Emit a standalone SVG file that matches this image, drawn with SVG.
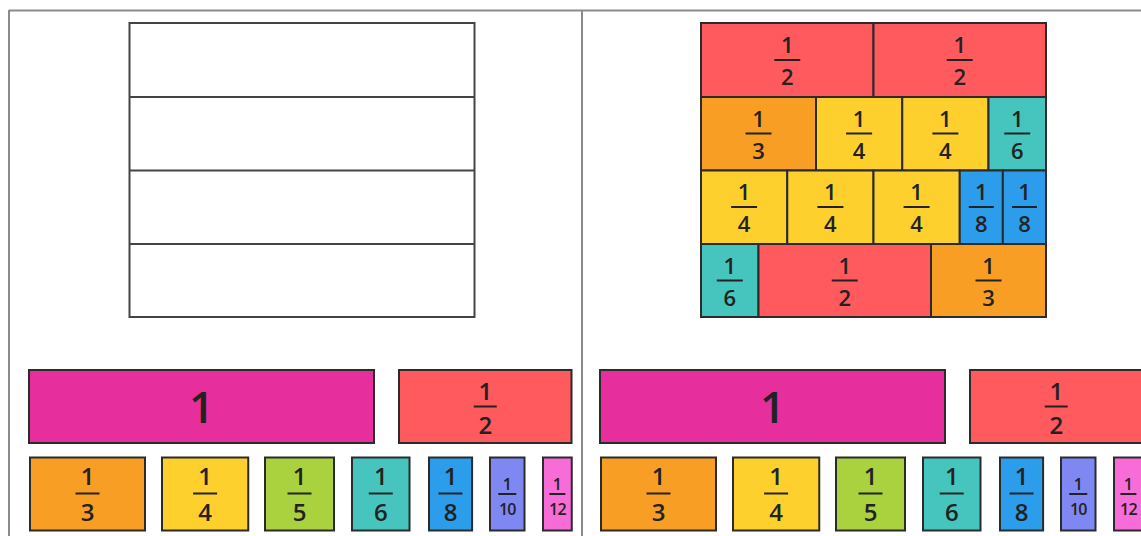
<svg xmlns="http://www.w3.org/2000/svg" width="1141" height="536" viewBox="0 0 1141 536">
<style>
.bg{fill:#ffffff}
.frame{stroke:#8a8a8a;stroke-width:2;fill:none}
.empty{fill:#ffffff;stroke:#444;stroke-width:2}
.t{stroke:#2b2b2b;stroke-width:2}
.bar{stroke:#222;stroke-width:2}
.n{font-family:"Open Sans","Noto Sans",sans-serif;fill:#222;text-anchor:middle;font-weight:600}
.s22{font-size:22px}
.s24{font-size:24px}
.s15{font-size:16px}
.s42{font-size:44px}
.mag{fill:#E62E9C}
.red{fill:#FF5A5E}
.org{fill:#F89E25}
.yel{fill:#FDD02E}
.grn{fill:#A9D23E}
.tea{fill:#45C5BE}
.blu{fill:#2C9DEA}
.per{fill:#7E87F2}
.pnk{fill:#F86CD8}
</style>
<rect class="bg" x="0" y="0" width="1141" height="536"/>
<g id="frame">
<line class="frame" x1="9" y1="10.5" x2="1141" y2="10.5"/>
<line class="frame" x1="9" y1="10" x2="9" y2="536"/>
<line class="frame" x1="582" y1="10" x2="582" y2="536"/>
</g>
<g id="empty-bar">
<rect class="empty" x="129.5" y="23" width="345" height="294"/>
<line class="empty" x1="129.5" y1="97" x2="474.5" y2="97"/>
<line class="empty" x1="129.5" y1="170.5" x2="474.5" y2="170.5"/>
<line class="empty" x1="129.5" y1="244" x2="474.5" y2="244"/>
</g>
<g id="filled-bar">
<g id="r1a"><rect class="t red" x="701" y="23" width="172.5" height="74"/><text class="n s22" x="787.25" y="53">1</text><line class="bar" x1="774.25" y1="60" x2="800.25" y2="60"/><text class="n s22" x="787.25" y="85">2</text></g>
<g id="r1b"><rect class="t red" x="873.5" y="23" width="172.5" height="74"/><text class="n s22" x="959.75" y="53">1</text><line class="bar" x1="946.75" y1="60" x2="972.75" y2="60"/><text class="n s22" x="959.75" y="85">2</text></g>
<g id="r2a"><rect class="t org" x="701" y="97" width="115" height="73.5"/><text class="n s22" x="758.5" y="126.5">1</text><line class="bar" x1="745.5" y1="133.5" x2="771.5" y2="133.5"/><text class="n s22" x="758.5" y="158.5">3</text></g>
<g id="r2b"><rect class="t yel" x="816" y="97" width="86.25" height="73.5"/><text class="n s22" x="859.1" y="126.5">1</text><line class="bar" x1="846.1" y1="133.5" x2="872.1" y2="133.5"/><text class="n s22" x="859.1" y="158.5">4</text></g>
<g id="r2c"><rect class="t yel" x="902.25" y="97" width="86.25" height="73.5"/><text class="n s22" x="945.4" y="126.5">1</text><line class="bar" x1="932.4" y1="133.5" x2="958.4" y2="133.5"/><text class="n s22" x="945.4" y="158.5">4</text></g>
<g id="r2d"><rect class="t tea" x="988.5" y="97" width="57.5" height="73.5"/><text class="n s22" x="1017.25" y="126.5">1</text><line class="bar" x1="1004.25" y1="133.5" x2="1030.25" y2="133.5"/><text class="n s22" x="1017.25" y="158.5">6</text></g>
<g id="r3a"><rect class="t yel" x="701" y="170.5" width="86.25" height="73.5"/><text class="n s22" x="744.1" y="200">1</text><line class="bar" x1="731.1" y1="207" x2="757.1" y2="207"/><text class="n s22" x="744.1" y="232">4</text></g>
<g id="r3b"><rect class="t yel" x="787.25" y="170.5" width="86.25" height="73.5"/><text class="n s22" x="830.4" y="200">1</text><line class="bar" x1="817.4" y1="207" x2="843.4" y2="207"/><text class="n s22" x="830.4" y="232">4</text></g>
<g id="r3c"><rect class="t yel" x="873.5" y="170.5" width="86.25" height="73.5"/><text class="n s22" x="916.6" y="200">1</text><line class="bar" x1="903.6" y1="207" x2="929.6" y2="207"/><text class="n s22" x="916.6" y="232">4</text></g>
<g id="r3d"><rect class="t blu" x="959.75" y="170.5" width="43.1" height="73.5"/><text class="n s22" x="981.3" y="200">1</text><line class="bar" x1="968.8" y1="207" x2="993.8" y2="207"/><text class="n s22" x="981.3" y="232">8</text></g>
<g id="r3e"><rect class="t blu" x="1002.85" y="170.5" width="43.15" height="73.5"/><text class="n s22" x="1024.5" y="200">1</text><line class="bar" x1="1012" y1="207" x2="1037" y2="207"/><text class="n s22" x="1024.5" y="232">8</text></g>
<g id="r4a"><rect class="t tea" x="701" y="244" width="57.5" height="73"/><text class="n s22" x="729.75" y="273.5">1</text><line class="bar" x1="716.75" y1="280.5" x2="742.75" y2="280.5"/><text class="n s22" x="729.75" y="305.5">6</text></g>
<g id="r4b"><rect class="t red" x="758.5" y="244" width="172.5" height="73"/><text class="n s22" x="844.75" y="273.5">1</text><line class="bar" x1="831.75" y1="280.5" x2="857.75" y2="280.5"/><text class="n s22" x="844.75" y="305.5">2</text></g>
<g id="r4c"><rect class="t org" x="931" y="244" width="115" height="73"/><text class="n s22" x="988.5" y="273.5">1</text><line class="bar" x1="975.5" y1="280.5" x2="1001.5" y2="280.5"/><text class="n s22" x="988.5" y="305.5">3</text></g>
</g>
<g id="tiles-left">
<g id="L-one"><rect class="t mag" x="29" y="370" width="345" height="73"/><text class="n s42" x="201.5" y="423">1</text></g>
<g id="L-half"><rect class="t red" x="399" y="370" width="172.5" height="73"/><text class="n s24" x="485.25" y="400">1</text><line class="bar" x1="473.75" y1="406.5" x2="496.75" y2="406.5"/><text class="n s24" x="485.25" y="434">2</text></g>
<g id="L-third"><rect class="t org" x="30" y="457.5" width="115" height="73"/><text class="n s24" x="87.5" y="485">1</text><line class="bar" x1="75.5" y1="493.5" x2="99.5" y2="493.5"/><text class="n s24" x="87.5" y="521">3</text></g>
<g id="L-quarter"><rect class="t yel" x="162" y="457.5" width="86.25" height="73"/><text class="n s24" x="205.1" y="485">1</text><line class="bar" x1="193.1" y1="493.5" x2="217.1" y2="493.5"/><text class="n s24" x="205.1" y="521">4</text></g>
<g id="L-fifth"><rect class="t grn" x="265" y="457.5" width="69" height="73"/><text class="n s24" x="299.5" y="485">1</text><line class="bar" x1="287.5" y1="493.5" x2="311.5" y2="493.5"/><text class="n s24" x="299.5" y="521">5</text></g>
<g id="L-sixth"><rect class="t tea" x="352" y="457.5" width="57.5" height="73"/><text class="n s24" x="380.75" y="485">1</text><line class="bar" x1="368.75" y1="493.5" x2="392.75" y2="493.5"/><text class="n s24" x="380.75" y="521">6</text></g>
<g id="L-eighth"><rect class="t blu" x="429" y="457.5" width="43.1" height="73"/><text class="n s24" x="450.5" y="485">1</text><line class="bar" x1="438.5" y1="493.5" x2="462.5" y2="493.5"/><text class="n s24" x="450.5" y="521">8</text></g>
<g id="L-tenth"><rect class="t per" x="490" y="457.5" width="34.5" height="73"/><text class="n s15" x="507.25" y="490">1</text><line class="bar" x1="498.25" y1="494" x2="516.25" y2="494"/><text class="n s15" x="507.25" y="515" letter-spacing="-0.8">10</text></g>
<g id="L-twelfth"><rect class="t pnk" x="543" y="457.5" width="28.75" height="73"/><text class="n s15" x="557.4" y="490">1</text><line class="bar" x1="549.4" y1="494" x2="565.4" y2="494"/><text class="n s15" x="557.4" y="515" letter-spacing="-0.8">12</text></g>
</g>
<g id="tiles-right" transform="translate(571,0)">
<g id="R-one"><rect class="t mag" x="29" y="370" width="345" height="73"/><text class="n s42" x="201.5" y="423">1</text></g>
<g id="R-half"><rect class="t red" x="399" y="370" width="172.5" height="73"/><text class="n s24" x="485.25" y="400">1</text><line class="bar" x1="473.75" y1="406.5" x2="496.75" y2="406.5"/><text class="n s24" x="485.25" y="434">2</text></g>
<g id="R-third"><rect class="t org" x="30" y="457.5" width="115" height="73"/><text class="n s24" x="87.5" y="485">1</text><line class="bar" x1="75.5" y1="493.5" x2="99.5" y2="493.5"/><text class="n s24" x="87.5" y="521">3</text></g>
<g id="R-quarter"><rect class="t yel" x="162" y="457.5" width="86.25" height="73"/><text class="n s24" x="205.1" y="485">1</text><line class="bar" x1="193.1" y1="493.5" x2="217.1" y2="493.5"/><text class="n s24" x="205.1" y="521">4</text></g>
<g id="R-fifth"><rect class="t grn" x="265" y="457.5" width="69" height="73"/><text class="n s24" x="299.5" y="485">1</text><line class="bar" x1="287.5" y1="493.5" x2="311.5" y2="493.5"/><text class="n s24" x="299.5" y="521">5</text></g>
<g id="R-sixth"><rect class="t tea" x="352" y="457.5" width="57.5" height="73"/><text class="n s24" x="380.75" y="485">1</text><line class="bar" x1="368.75" y1="493.5" x2="392.75" y2="493.5"/><text class="n s24" x="380.75" y="521">6</text></g>
<g id="R-eighth"><rect class="t blu" x="429" y="457.5" width="43.1" height="73"/><text class="n s24" x="450.5" y="485">1</text><line class="bar" x1="438.5" y1="493.5" x2="462.5" y2="493.5"/><text class="n s24" x="450.5" y="521">8</text></g>
<g id="R-tenth"><rect class="t per" x="490" y="457.5" width="34.5" height="73"/><text class="n s15" x="507.25" y="490">1</text><line class="bar" x1="498.25" y1="494" x2="516.25" y2="494"/><text class="n s15" x="507.25" y="515" letter-spacing="-0.8">10</text></g>
<g id="R-twelfth"><rect class="t pnk" x="543" y="457.5" width="28.75" height="73"/><text class="n s15" x="557.4" y="490">1</text><line class="bar" x1="549.4" y1="494" x2="565.4" y2="494"/><text class="n s15" x="557.4" y="515" letter-spacing="-0.8">12</text></g>
</g>
</svg>
